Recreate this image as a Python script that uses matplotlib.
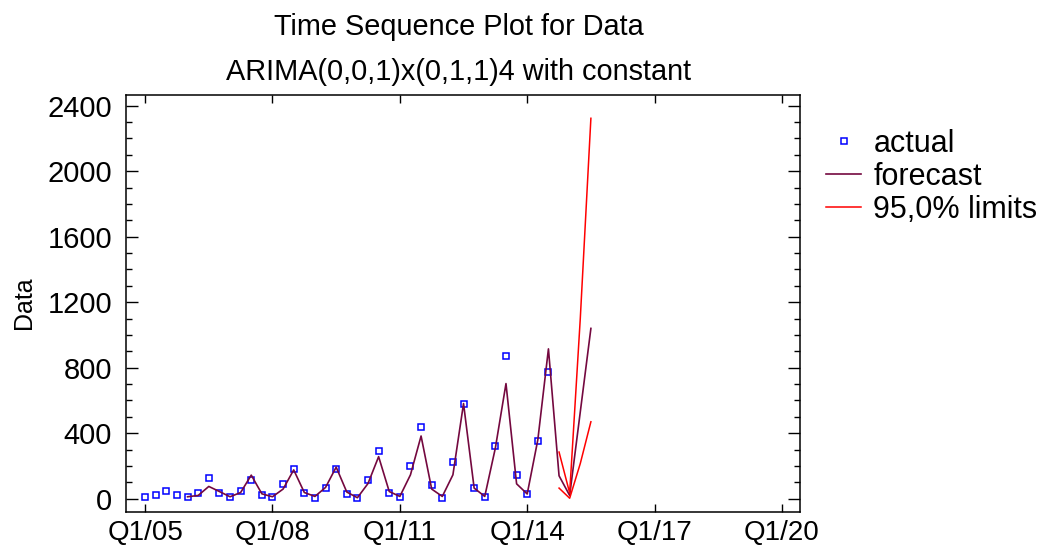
import numpy as np
import matplotlib.pyplot as plt
from matplotlib.ticker import MultipleLocator

plt.rcParams['font.family'] = ['Liberation Sans', 'DejaVu Sans']

# quarterly series, index 0 = Q1/05
actual = [10, 22, 50, 22, 10, 32, 126, 38, 10, 49, 114, 22, 10, 87, 180, 32,
          6, 65, 180, 29, 4, 114, 293, 38, 10, 200, 439, 81, 6, 223, 581, 65,
          12, 320, 873, 142, 29, 352, 776]
forecast_start = 4
forecast = [12, 20, 75, 44, 12, 38, 144, 30, 12, 59, 176, 38, 14, 69, 193, 41,
            6, 93, 257, 44, 14, 146, 383, 59, 14, 146, 581, 65, 14, 310, 703, 91,
            29, 360, 915, 140, 20, 530, 1040]
limits_start = 39
upper = [285, 35, 1100, 2323]
lower = [65, 3, 215, 470]

tick_pos = [0, 12, 24, 36, 48, 60]
tick_labels = ['Q1/05', 'Q1/08', 'Q1/11', 'Q1/14', 'Q1/17', 'Q1/20']

t_act = np.arange(len(actual))
t_fc = np.arange(forecast_start, forecast_start + len(forecast))
t_lim = np.arange(limits_start, limits_start + len(upper))

fig = plt.figure(figsize=(10.38, 5.48), dpi=100)
ax = fig.add_axes([0.1214, 0.0666, 0.6493, 0.7606])

h1, = ax.plot(t_act, actual, 's', ms=4.3, mfc='none', mec='#0000ff', mew=1.1,
              label='actual')
h2, = ax.plot(t_fc, forecast, '-', color='#74083f', lw=1.2, label='forecast')
h3, = ax.plot(t_lim, upper, '-', color='#ff0000', lw=1.1, label='95,0% limits')
ax.plot(t_lim, lower, '-', color='#ff0000', lw=1.1)

ax.set_xlim(-1.8, 61.7)
ax.set_ylim(-78, 2467)
ax.set_xticks(tick_pos)
ax.set_xticklabels(tick_labels)
ax.yaxis.set_major_locator(MultipleLocator(400))
ax.yaxis.set_minor_locator(MultipleLocator(100))
ax.tick_params(axis='both', which='both', direction='in', top=True, right=True,
               labelsize=21, width=1.0)
ax.tick_params(axis='x', labelsize=20)
ax.tick_params(axis='y', which='major', length=8.5, pad=10)
ax.tick_params(axis='y', which='minor', length=4.3)
ax.tick_params(axis='x', which='major', length=5.8, pad=6)
for s in ax.spines.values():
    s.set_linewidth(1.1)

ax.set_ylabel('Data', fontsize=18, labelpad=8)

fig.text(0.442, 0.9361, 'Time Sequence Plot for Data', ha='center',
         va='baseline', fontsize=20.8)
fig.text(0.442, 0.854, 'ARIMA(0,0,1)x(0,1,1)4 with constant', ha='center',
         va='baseline', fontsize=20.8)

fig.legend(handles=[h1, h2, h3], loc='upper left', bbox_to_anchor=(0.7958, 0.765),
           frameon=False, fontsize=22, borderpad=0, borderaxespad=0,
           handlelength=1.15, handletextpad=0.4, labelspacing=0.1)

plt.savefig('out.png', dpi=100)
